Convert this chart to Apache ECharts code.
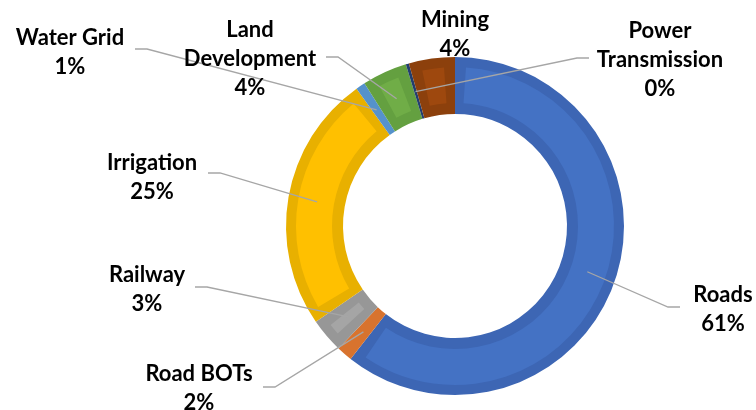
<!DOCTYPE html>
<html>
<head>
<meta charset="utf-8">
<script src="https://cdn.jsdelivr.net/npm/echarts@6/dist/echarts.min.js"></script>
<style>
  html, body { margin: 0; padding: 0; background: #fff; }
  #chart { width: 756px; height: 410px; }
</style>
</head>
<body>
<div id="chart"></div>
<script>
// data
const sectors = ['Roads', 'Road BOTs', 'Railway', 'Irrigation', 'Water Grid', 'Land Development', 'Power Transmission', 'Mining'];
const labelNames = ['Roads', 'Road BOTs', 'Railway', 'Irrigation', 'Water Grid', 'Land\nDevelopment', 'Power\nTransmission', 'Mining'];
const shares = [60.6, 1.5, 3.3, 24.7, 0.9, 4.3, 0.3, 4.4];

// colours: edge band (darker) and inner fill
const fillColors = ['#4472c4', '#ed7d31', '#a5a5a5', '#ffc000', '#5b9bd5', '#70ad47', '#264478', '#9e480e'];
const edgeColors = ['#3d66b4', '#d8732e', '#979797', '#e8b000', '#5592cb', '#64a040', '#223e6e', '#8c400c'];

// where each label sits (centre) and where its leader line bends
const labelSpots = {
  'Roads': { at: [723, 309], bend: [668, 307], side: 1 },
  'Road BOTs': { at: [199, 388], bend: [275, 387], side: -1 },
  'Railway': { at: [147, 289], bend: [207, 287], side: -1 },
  'Irrigation': { at: [152, 177], bend: [220, 173], side: -1 },
  'Water Grid': { at: [70, 52], bend: [147, 49], side: -1 },
  'Land Development': { at: [250, 59], bend: [338, 57], side: -1 },
  'Power Transmission': { at: [660, 60], bend: [577, 58], side: 1 },
  'Mining': { at: [455, 34], bend: null, side: 0 }
};

const cx = 455;
const cy = 226;
const outerR = 169;
const innerR = 112;
const lineR = 140;
const gapShare = 2.2; // share-units kept dark between two inner fills

const total = shares.reduce((a, b) => a + b, 0);

// mid angle (radians, clockwise from 12 o'clock)
function midAngle(i) {
  let c = 0;
  for (let k = 0; k < i; k++) c += shares[k];
  return (c + shares[i] / 2) / total * Math.PI * 2;
}

// how much of a sector stays dark on its sides
function sideGap(i) {
  return shares[i] - Math.max(shares[i] - gapShare, 0);
}

// dark ring
const edgeData = sectors.map((name, i) => ({
  name: name,
  value: shares[i],
  itemStyle: { color: edgeColors[i] }
}));

// lighter inner fills, separated by transparent gaps so they stay aligned
const clear = { color: 'rgba(0,0,0,0)' };
const fillData = [{ name: 'gap', value: sideGap(0) / 2, itemStyle: clear }];
sectors.forEach((name, i) => {
  fillData.push({ name: name, value: shares[i] - sideGap(i), itemStyle: { color: fillColors[i] } });
  const next = i < sectors.length - 1 ? sideGap(i + 1) / 2 : 0;
  fillData.push({ name: 'gap', value: sideGap(i) / 2 + next, itemStyle: clear });
});

// labels
const labelData = sectors.map((name, i) => ({
  name: name,
  value: shares[i],
  labelLine: { show: labelSpots[name].bend !== null }
}));

const chart = echarts.init(document.getElementById('chart'));

const option = {
  animation: false,
  backgroundColor: '#ffffff',
  series: [
    {
      type: 'pie',
      z: 1,
      center: [cx, cy],
      radius: [innerR, outerR],
      startAngle: 90,
      silent: true,
      label: { show: false },
      labelLine: { show: false },
      data: edgeData
    },
    {
      type: 'pie',
      z: 2,
      center: [cx, cy],
      radius: [innerR + 11, outerR - 10],
      startAngle: 90,
      silent: true,
      label: { show: false },
      labelLine: { show: false },
      data: fillData
    },
    {
      type: 'pie',
      z: 5,
      center: [cx, cy],
      radius: [innerR, outerR],
      startAngle: 90,
      silent: true,
      percentPrecision: 0,
      avoidLabelOverlap: false,
      itemStyle: { color: 'rgba(0,0,0,0)' },
      label: {
        show: true,
        position: 'outside',
        color: '#000000',
        fontFamily: 'Lato',
        fontWeight: 'bold',
        fontSize: 22,
        lineHeight: 29,
        align: 'center',
        formatter: function (p) {
          return labelNames[p.dataIndex] + '\n' + p.percent + '%';
        }
      },
      labelLine: {
        show: true,
        lineStyle: { color: '#a6a6a6', width: 1.3 }
      },
      labelLayout: function (p) {
        const name = sectors[p.dataIndex];
        const spot = labelSpots[name];
        const out = { x: spot.at[0], y: spot.at[1], align: 'center', verticalAlign: 'middle' };
        if (spot.bend) {
          const a = midAngle(p.dataIndex);
          const start = [cx + lineR * Math.sin(a), cy - lineR * Math.cos(a)];
          const end = [spot.bend[0] + spot.side * 12, spot.bend[1]];
          out.labelLinePoints = [start, spot.bend, end];
        }
        return out;
      },
      data: labelData
    }
  ]
};

chart.setOption(option);
</script>
</body>
</html>
